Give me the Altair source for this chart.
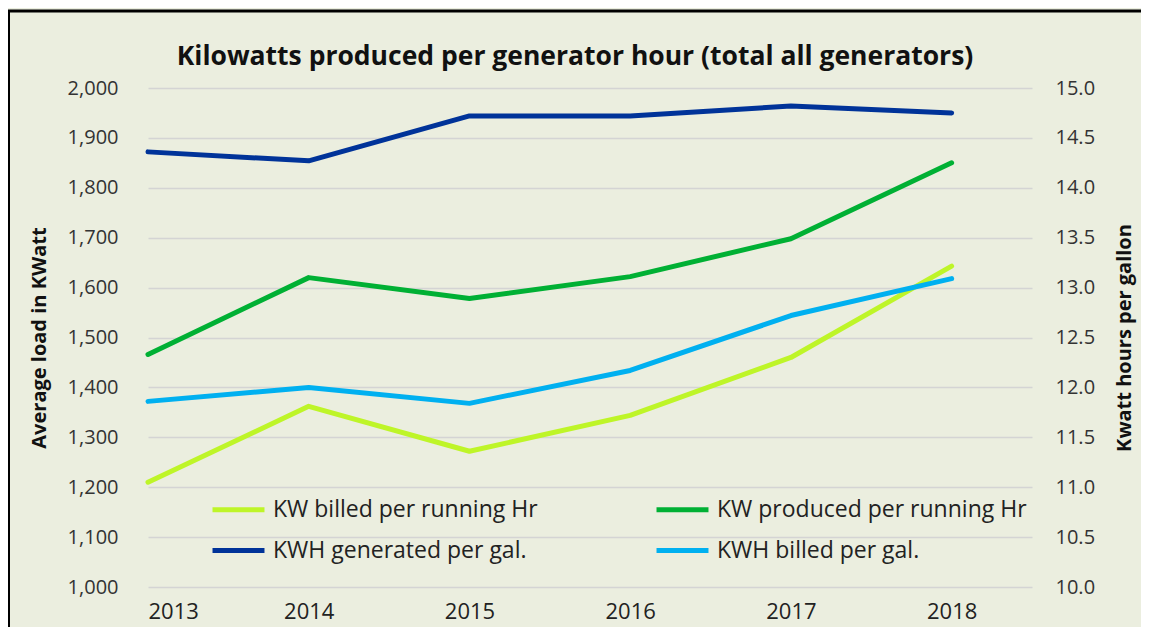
import altair as alt
import pandas as pd

years = [2013, 2014, 2015, 2016, 2017, 2018]
kw_billed = [1210, 1362, 1272, 1344, 1460, 1643]
kw_produced = [1466, 1620, 1578, 1622, 1698, 1850]
kwh_generated = [14.36, 14.27, 14.72, 14.72, 14.82, 14.75]
kwh_billed = [11.86, 12.00, 11.84, 12.17, 12.72, 13.09]

series_names = ["KW billed per running Hr", "KW produced per running Hr",
                "KWH generated per gal.", "KWH billed per gal."]
series_colors = ["#BEF528", "#00B034", "#003399", "#00B0F0"]
# legend fills column by column: order so rows read like the reference
legend_order = [0, 2, 1, 3]
domain_names = [series_names[i] for i in legend_order]
domain_colors = [series_colors[i] for i in legend_order]

left_ticks = [1000, 1100, 1200, 1300, 1400, 1500, 1600, 1700, 1800, 1900, 2000]
right_ticks = [10.0, 10.5, 11.0, 11.5, 12.0, 12.5, 13.0, 13.5, 14.0, 14.5, 15.0]

title_text = "Kilowatts produced per generator hour (total all generators)"

FONT = "Open Sans"
BG = "#EBEEDF"

left_rows = []
for name, vals in [(series_names[0], kw_billed), (series_names[1], kw_produced)]:
    for y, v in zip(years, vals):
        left_rows.append({"year": y, "value": v, "series": name})
right_rows = []
for name, vals in [(series_names[2], kwh_generated), (series_names[3], kwh_billed)]:
    for y, v in zip(years, vals):
        right_rows.append({"year": y, "value": v, "series": name})
df_left = pd.DataFrame(left_rows)
df_right = pd.DataFrame(right_rows)

x_enc = alt.X("year:Q",
              scale=alt.Scale(domain=[2013, 2018.5], nice=False, zero=False),
              axis=alt.Axis(values=years, format="d", title=None, grid=False,
                            domain=False, ticks=False, labelPadding=14,
                            labelFontSize=22, labelColor="#222222", labelFont=FONT))

color_enc = alt.Color("series:N",
                      scale=alt.Scale(domain=domain_names, range=domain_colors),
                      legend=alt.Legend(title=None, orient="none", legendX=62, legendY=393,
                                        columns=2, columnPadding=108, rowPadding=-5,
                                        symbolType="stroke", symbolSize=2700,
                                        symbolStrokeWidth=5, labelFontSize=23,
                                        labelFont=FONT, labelColor="#222222",
                                        labelOffset=6, labelLimit=400))

one = alt.Data(values=[{"a": 1}])
top_border = alt.Chart(one).mark_rule(color="black", strokeWidth=3).encode(
    x=alt.value(-141), x2=alt.value(1100), y=alt.value(-77))
left_border = alt.Chart(one).mark_rule(color="black", strokeWidth=3).encode(
    x=alt.value(-139.5), y=alt.value(-78), y2=alt.value(700))
title = alt.Chart(one).mark_text(font=FONT, fontSize=26.5, fontWeight="bold", color="#111111",
                                 align="center", baseline="middle").encode(
    x=alt.value(427), y=alt.value(-31), text=alt.value(title_text))

left = alt.Chart(df_left).mark_line(strokeWidth=5, strokeCap="round", strokeJoin="round").encode(
    x=x_enc,
    y=alt.Y("value:Q", scale=alt.Scale(domain=[1000, 2000], nice=False, zero=False),
            axis=alt.Axis(orient="left", values=left_ticks, format=",.0f", title="Average load in KWatt",
                          grid=True, gridColor="#D4D4D4", gridWidth=1.5, domain=False, ticks=False,
                          labelPadding=30, labelFontSize=20, labelColor="#333333", labelFont=FONT,
                          titleFontSize=20, titleFont=FONT, titleFontWeight="bold", titleColor="#111111",
                          titlePadding=18)),
    color=color_enc,
)

right = alt.Chart(df_right).mark_line(strokeWidth=5, strokeCap="round", strokeJoin="round").encode(
    x=x_enc,
    y=alt.Y("value:Q", scale=alt.Scale(domain=[10, 15], nice=False, zero=False),
            axis=alt.Axis(orient="right", values=right_ticks, format=".1f", title="Kwatt hours per gallon",
                          grid=False, domain=False, ticks=False,
                          labelPadding=23, labelFontSize=20, labelColor="#333333", labelFont=FONT,
                          titleFontSize=20, titleFont=FONT, titleFontWeight="bold", titleColor="#111111",
                          titleAngle=270, titleBaseline="top", titlePadding=20)),
    color=color_enc,
)

chart = alt.layer(top_border, left_border, title, left, right).resolve_scale(y="independent").properties(
    width=884, height=499,
    autosize=alt.AutoSizeParams(type="none"),
    padding={"left": 140, "top": 80, "right": 109, "bottom": 40},
    background=BG,
).configure_view(stroke=None)

chart.save("out.html", embed_options={"renderer": "svg", "actions": False})
